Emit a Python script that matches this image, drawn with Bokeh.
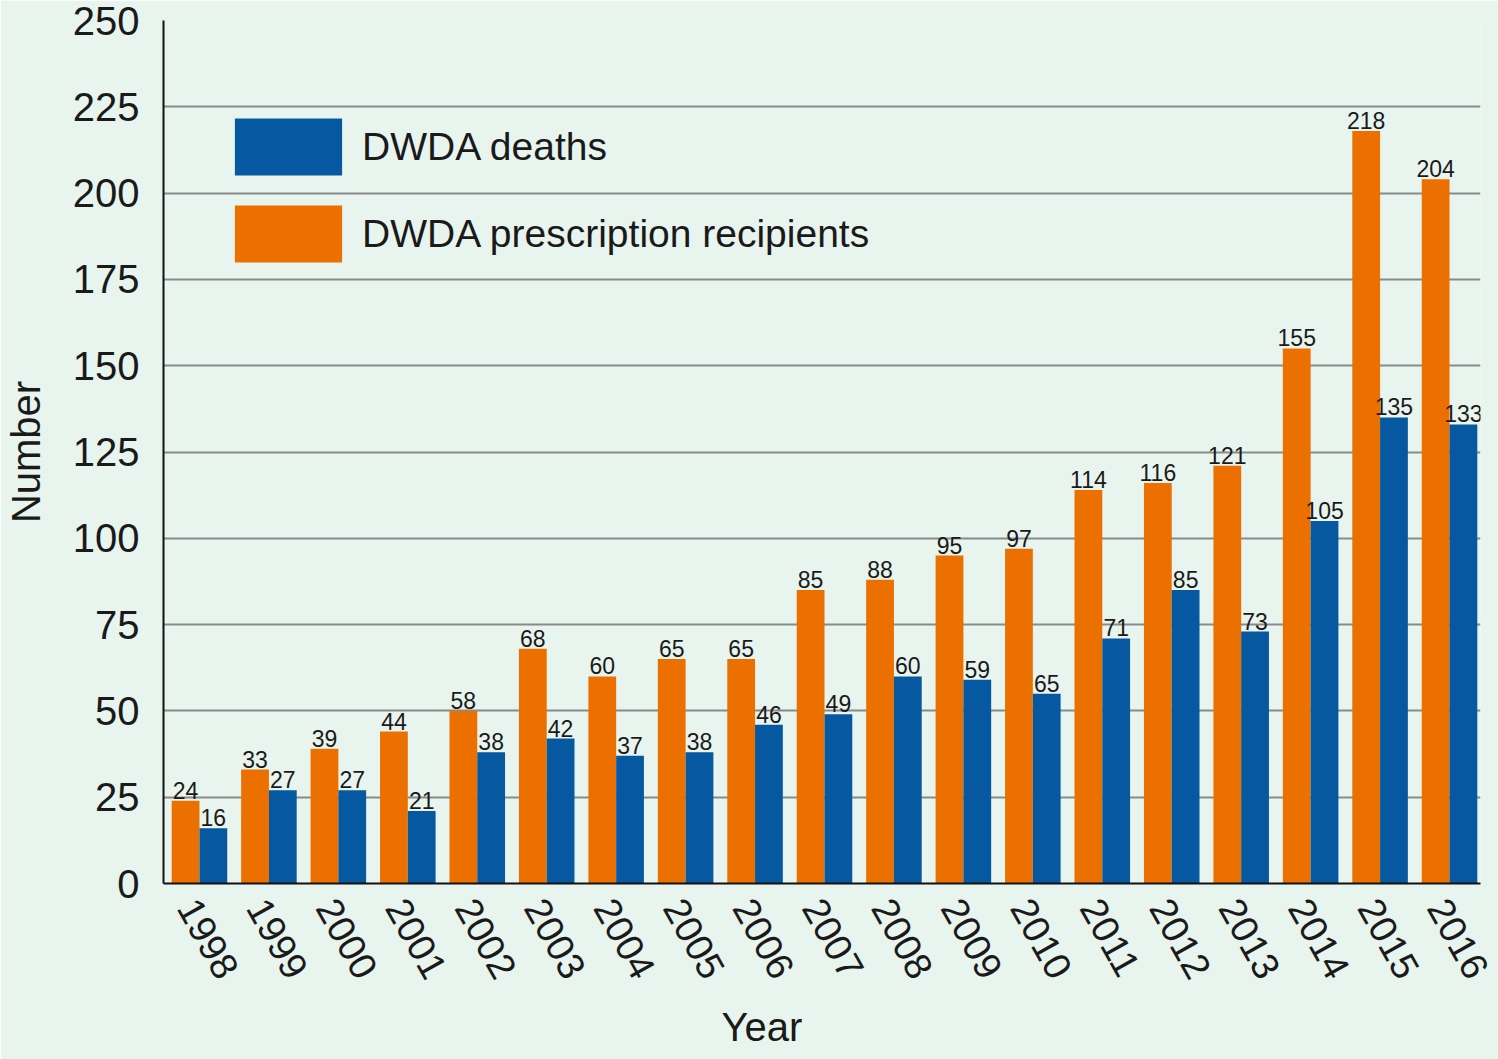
from bokeh.plotting import figure
from bokeh.models import ColumnDataSource, FixedTicker, Legend, LegendItem, Title
from bokeh.embed import file_html
from bokeh.resources import INLINE
from bokeh.core.properties import value

years = ["1998", "1999", "2000", "2001", "2002", "2003", "2004", "2005", "2006", "2007",
         "2008", "2009", "2010", "2011", "2012", "2013", "2014", "2015", "2016"]
# bar heights as drawn
recipients = [24, 33, 39, 44, 50, 68, 60, 65, 65, 85, 88, 95, 97, 114, 116, 121, 155, 218, 204]
deaths = [16, 27, 27, 21, 38, 42, 37, 38, 46, 49, 60, 59, 55, 71, 85, 73, 105, 135, 133]
# printed value labels
recipient_labels = ["24", "33", "39", "44", "58", "68", "60", "65", "65", "85", "88", "95", "97",
                    "114", "116", "121", "155", "218", "204"]
death_labels = ["16", "27", "27", "21", "38", "42", "37", "38", "46", "49", "60", "59", "65",
                "71", "85", "73", "105", "135", "133"]
y_ticks = [0, 25, 50, 75, 100, 125, 150, 175, 200, 225, 250]

FONT = "Liberation Sans"
BG = "#e8f4ee"
ORANGE = "#ec7000"
BLUE = "#0659a1"
TXT = "#1a1a1a"

idx = list(range(len(years)))
src_r = ColumnDataSource(dict(x=[i - 0.2 for i in idx], top=recipients, lab=recipient_labels))
src_d = ColumnDataSource(dict(x=[i + 0.2 for i in idx], top=deaths, lab=death_labels))

p = figure(width=1498, height=1059, output_backend="svg", toolbar_location=None,
           x_range=(-0.518, 18.446), y_range=(0, 250),
           min_border_left=163, min_border_top=20, min_border_right=18, min_border_bottom=173)
p.background_fill_color = BG
p.border_fill_color = BG
p.outline_line_color = None

r1 = p.vbar(x="x", top="top", width=0.4, source=src_r, fill_color=ORANGE, line_color=None)
r2 = p.vbar(x="x", top="top", width=0.4, source=src_d, fill_color=BLUE, line_color=None)

for src in (src_r, src_d):
    p.text(x="x", y="top", text="lab", source=src, text_align="center", text_baseline="bottom",
           y_offset=-2, text_font=value(FONT), text_font_size="23px", text_color=TXT)

p.xgrid.grid_line_color = None
p.ygrid.grid_line_color = "#8a8a8a"
p.ygrid.grid_line_width = 2
p.ygrid.ticker = FixedTicker(ticks=y_ticks)

p.yaxis.ticker = FixedTicker(ticks=y_ticks)
p.yaxis.major_tick_line_color = None
p.yaxis.minor_tick_line_color = None
p.yaxis.axis_line_color = "#111111"
p.yaxis.axis_line_width = 2
p.yaxis.major_label_text_font = FONT
p.yaxis.major_label_text_font_size = "40px"
p.yaxis.major_label_text_color = TXT
p.yaxis.major_label_standoff = 18
p.yaxis.axis_label = "Number"
p.yaxis.axis_label_text_font = FONT
p.yaxis.axis_label_text_font_size = "40px"
p.yaxis.axis_label_text_font_style = "normal"
p.yaxis.axis_label_text_color = TXT
p.yaxis.axis_label_standoff = 22

tick_pos = [i - 0.17 for i in idx]
p.xaxis.ticker = FixedTicker(ticks=tick_pos)
p.xaxis.major_label_overrides = {t: y for t, y in zip(tick_pos, years)}
p.xaxis.major_label_orientation = -1.06
p.xaxis.major_tick_line_color = None
p.xaxis.minor_tick_line_color = None
p.xaxis.axis_line_color = "#111111"
p.xaxis.axis_line_width = 2
p.xaxis.major_label_text_font = FONT
p.xaxis.major_label_text_font_size = "38px"
p.xaxis.major_label_text_color = TXT
p.xaxis.major_label_standoff = 12

p.add_layout(Title(text="Year", align="left", offset=558, standoff=22, text_font=FONT,
                   text_font_size="40px", text_font_style="normal", text_color=TXT), "below")

legend = Legend(items=[LegendItem(label="DWDA deaths", renderers=[r2]),
                       LegendItem(label="DWDA prescription recipients", renderers=[r1])],
                location=(58, 614), padding=0, margin=0, spacing=16,
                glyph_width=134, glyph_height=71, label_standoff=7,
                label_text_font=FONT, label_text_font_size="39px", label_text_color=TXT,
                background_fill_alpha=0, border_line_color=None)
p.add_layout(legend)

open("out.html", "w").write(file_html(p, INLINE))
